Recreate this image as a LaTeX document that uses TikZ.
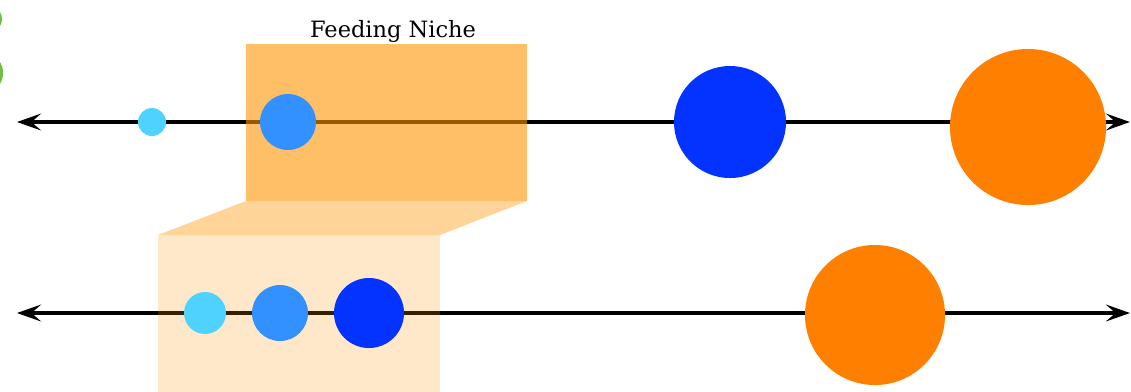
\documentclass[tikz,border=0pt]{standalone}
\usepackage{tikz}
\usepackage{fontspec}
\setmainfont{DejaVu Serif}
\usetikzlibrary{arrows.meta,positioning}
\definecolor{nkInk}{HTML}{000000}
\definecolor{nkCyan}{HTML}{50D2FF}
\definecolor{nkBlue}{HTML}{3391FF}
\definecolor{nkDeep}{HTML}{0433FF}
\definecolor{nkOrange}{HTML}{FF7F00}
\definecolor{nkNiche}{HTML}{FF9400}
\definecolor{nkGreen}{HTML}{6DBE45}
\tikzset{
  axis/.style     ={{Stealth[length=6mm,width=4.2mm,inset=2.4mm]}-{Stealth[length=6mm,width=4.2mm,inset=2.4mm]},
                    nkInk,line width=1mm},
  species/.style  ={circle,draw=none,inner sep=0pt,minimum size={#1*0.5mm}},
  small/.style    ={species=#1,fill=nkCyan},
  medium/.style   ={species=#1,fill=nkBlue},
  large/.style    ={species=#1,fill=nkDeep},
  huge/.style     ={species=#1,fill=nkOrange},
  niche/.style    ={fill=nkNiche,draw=none},
  lbl/.style      ={font=\fontsize{16}{18}\selectfont,text=nkInk,inner sep=0pt},
}
\begin{document}
\begin{tikzpicture}[x=0.025cm,y=-0.025cm]
\useasboundingbox (0,0) rectangle (1131,391);
\clip (0,0) rectangle (1131,391);

% cut-off green marks at the left edge
\fill[nkGreen] (-5,19) ellipse[x radius=7,y radius=10];
\fill[nkGreen] (-5,73) ellipse[x radius=8,y radius=14];

% the two axes
\coordinate (topL) at (17,122);  \coordinate (topR) at (1130,122);
\coordinate (botL) at (17,313);  \coordinate (botR) at (1130,313);
\draw[axis] (topL) -- (topR);
\draw[axis] (botL) -- (botR);

% niche boxes
\fill[niche,opacity=0.6] (246,44) rectangle (527,201);
\fill[niche,opacity=0.4] (246,201) -- (527,201) -- (440,235) -- (158,235) -- cycle;
\fill[niche,opacity=0.21] (158,235) rectangle (440,395);
\node[lbl,anchor=base] (title) at (393,37) {Feeding Niche};

% species on the upper axis
\node[small=14]  (t1) at (152,122)  {};
\node[medium=28] (t2) at (288,122)  {};
\node[large=56]  (t3) at (730,122)  {};
\node[huge=78]   (t4) at (1028,127) {};

% species on the lower axis
\node[small=21]  (b1) at (205,313) {};
\node[medium=28] (b2) at (280,313) {};
\node[large=35]  (b3) at (369,313) {};
\node[huge=70]   (b4) at (875,315) {};
\end{tikzpicture}
\end{document}
